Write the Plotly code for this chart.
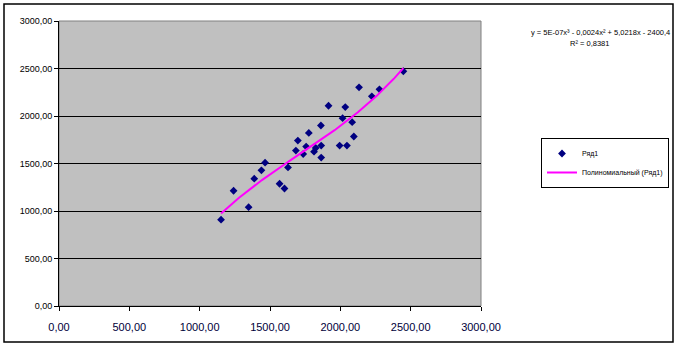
import numpy as np
import plotly.graph_objects as go

# Data
x_vals = [1152, 1241, 1348, 1388, 1439, 1465, 1568, 1603, 1628, 1684,
          1698, 1736, 1757, 1776, 1813, 1825, 1862, 1864, 1864, 1916,
          1995, 2016, 2035, 2047, 2084, 2096, 2133, 2224, 2278, 2448]
y_vals = [909, 1213, 1040, 1340, 1428, 1509, 1287, 1237, 1459, 1636,
          1741, 1600, 1678, 1822, 1625, 1663, 1900, 1689, 1562, 2108,
          1689, 1977, 2094, 1689, 1935, 1784, 2302, 2207, 2281, 2471]
tick_vals = [0, 500, 1000, 1500, 2000, 2500, 3000]
tick_text = ["0,00", "500,00", "1000,00", "1500,00", "2000,00", "2500,00", "3000,00"]
series_name = "Ряд1"
trend_name = "Полиномиальный (Ряд1)"
equation = "y = 5E-07x³ - 0,0024x² + 5,0218x - 2400,4"
r2_text = "R² = 0,8381"

coef = np.polyfit(x_vals, y_vals, 3)
xt = np.linspace(min(x_vals), max(x_vals), 200)
yt = np.polyval(coef, xt)

fig = go.Figure()
fig.add_trace(go.Scatter(x=x_vals, y=y_vals, mode="markers", name=series_name,
                         marker=dict(symbol="diamond", size=6, color="#000080")))
fig.add_trace(go.Scatter(x=xt, y=yt, mode="lines", name=trend_name,
                         line=dict(color="#FF00FF", width=2)))

font = "Liberation Sans, Arial, sans-serif"
L, R, T, B = 59, 481, 21, 306
W, H = R - L, B - T


def px(x):
    return (x - L) / W


def py(y):
    return (B - y) / H


fig.update_layout(
    width=678, height=347,
    margin=dict(l=L, r=678 - R, t=T, b=347 - B, autoexpand=False),
    paper_bgcolor="white", plot_bgcolor="#C0C0C0",
    font=dict(family=font, color="black"),
    showlegend=True,
    legend=dict(x=px(541), y=py(163), xanchor="left", yanchor="middle",
                bordercolor="black", borderwidth=1, bgcolor="white",
                font=dict(size=7, family=font), tracegroupgap=0,
                itemwidth=30),
    xaxis=dict(range=[0, 3000], tickvals=tick_vals, ticktext=tick_text,
               showgrid=False, zeroline=False, showline=True, linecolor="black",
               linewidth=1, ticks="outside", ticklen=4, tickcolor="black",
               ticklabelstandoff=7,
               tickfont=dict(size=11, family=font, color="#00003a")),
    yaxis=dict(range=[0, 3000], tickvals=tick_vals, ticktext=tick_text,
               showgrid=True, gridcolor="black", gridwidth=1, zeroline=False,
               showline=True, linecolor="black", linewidth=1,
               ticks="outside", ticklen=4, tickcolor="black",
               tickfont=dict(size=9, family=font)),
    shapes=[
        dict(type="rect", xref="paper", yref="paper", x0=0, x1=1, y0=0, y1=1,
             line=dict(color="#808080", width=1), layer="below"),
        dict(type="rect", xref="paper", yref="paper", x0=px(4), x1=px(673),
             y0=py(342), y1=py(4), line=dict(color="black", width=1.5)),
    ],
    annotations=[
        dict(xref="paper", yref="paper", x=px(672), y=py(32),
             xanchor="right", yanchor="middle", showarrow=False, text=equation,
             font=dict(size=7.5, family=font)),
        dict(xref="paper", yref="paper", x=px(589), y=py(43),
             xanchor="center", yanchor="middle", showarrow=False, text=r2_text,
             font=dict(size=7.5, family=font)),
    ],
)

fig.write_html("out.html")
